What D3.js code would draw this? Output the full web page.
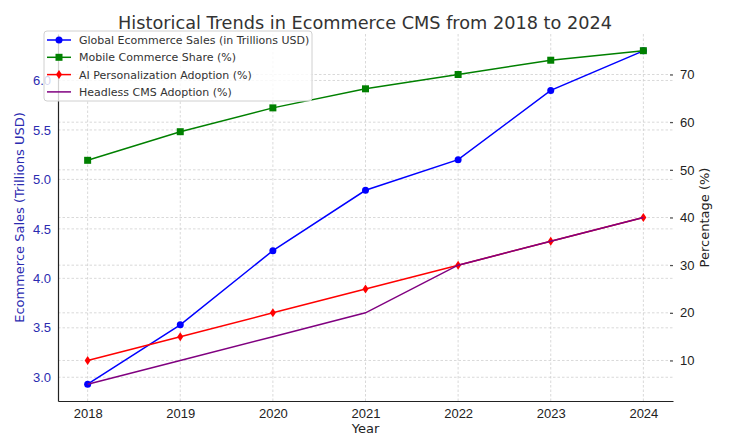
<!DOCTYPE html>
<html><head><meta charset="utf-8">
<script src="https://cdn.jsdelivr.net/npm/d3@7"></script>
<style>body{margin:0;background:#fff}svg{display:block;font-family:"DejaVu Sans",sans-serif}</style>
</head><body><svg id="c" width="744" height="447"></svg>
<script>
const years = [2018, 2019, 2020, 2021, 2022, 2023, 2024];
const salesTrillions = [2.93, 3.53, 4.28, 4.89, 5.2, 5.9, 6.3];
const mobileShare = [52, 58, 63, 67, 70, 73, 75];
const aiAdoption = [10, 15, 20, 25, 30, 35, 40];
const headlessAdoption = [5, 10, 15, 20, 30, 35, 40];
const leftTicks = [3.0, 3.5, 4.0, 4.5, 5.0, 5.5, 6.0];
const rightTicks = [10, 20, 30, 40, 50, 60, 70];

const svg = d3.select("#c");
const L = 58, R = 673, T = 34, B = 401;
const x = d3.scaleLinear().domain([2017.68, 2024.32]).range([L, R]);
const yL = d3.scaleLinear().domain([2.76, 6.47]).range([B, T]);
const yR = d3.scaleLinear().domain([1.5, 78.5]).range([B, T]);

const grid = svg.append("g").attr("stroke", "#cfcfcf").attr("stroke-width", 0.8).attr("stroke-dasharray", "2.5,2");
years.forEach(v => grid.append("line").attr("x1", x(v)).attr("x2", x(v)).attr("y1", T).attr("y2", B));
leftTicks.forEach(v => grid.append("line").attr("x1", L).attr("x2", R).attr("y1", yL(v)).attr("y2", yL(v)));
rightTicks.forEach(v => grid.append("line").attr("x1", L).attr("x2", R).attr("y1", yR(v)).attr("y2", yR(v)));

// axes
const xAxis = svg.append("g").attr("transform", `translate(0,${B})`)
  .call(d3.axisBottom(x).tickValues(years).tickFormat(d3.format("d")).tickSize(0).tickPadding(8));
xAxis.select(".domain").attr("stroke", "#222").attr("stroke-width", 1.2);
xAxis.selectAll("text").attr("font-size", 13).attr("fill", "#222");

const lAxis = svg.append("g").attr("transform", `translate(${L},0)`)
  .call(d3.axisLeft(yL).tickValues(leftTicks).tickFormat(d3.format(".1f")).tickSize(0).tickPadding(7));
lAxis.select(".domain").attr("stroke", "#222").attr("stroke-width", 1.2);
lAxis.selectAll("text").attr("font-size", 13).attr("fill", "#2b2bb0");

const rAxis = svg.append("g").attr("transform", `translate(${R},0)`)
  .call(d3.axisRight(yR).tickValues(rightTicks).tickSize(3).tickPadding(4));
rAxis.select(".domain").remove();
rAxis.selectAll("line").attr("stroke", "#333").attr("transform", "translate(-3,0)");
rAxis.selectAll("text").attr("font-size", 13).attr("fill", "#222");

// labels
svg.append("text").attr("x", 365).attr("y", 28.5).attr("text-anchor", "middle").attr("font-size", 17.7).attr("fill", "#333").text("Historical Trends in Ecommerce CMS from 2018 to 2024");
svg.append("text").attr("x", (L + R) / 2).attr("y", 433).attr("text-anchor", "middle").attr("font-size", 13).attr("fill", "#222").text("Year");
svg.append("text").attr("transform", `translate(24,${(T + B) / 2}) rotate(-90)`).attr("text-anchor", "middle").attr("font-size", 13).attr("fill", "#2b2bb0").text("Ecommerce Sales (Trillions USD)");
svg.append("text").attr("transform", `translate(709,${(T + B) / 2}) rotate(-90)`).attr("text-anchor", "middle").attr("font-size", 13).attr("fill", "#222").text("Percentage (%)");

const series = [
  {name: "Global Ecommerce Sales (in Trillions USD)", vals: salesTrillions, y: yL, color: "#0000ff", marker: "circle"},
  {name: "Mobile Commerce Share (%)", vals: mobileShare, y: yR, color: "#008000", marker: "square"},
  {name: "AI Personalization Adoption (%)", vals: aiAdoption, y: yR, color: "#ff0000", marker: "diamond"},
  {name: "Headless CMS Adoption (%)", vals: headlessAdoption, y: yR, color: "#800080", marker: null}
];

function drawMarker(g, type, cx, cy, color) {
  if (type === "circle") g.append("circle").attr("cx", cx).attr("cy", cy).attr("r", 3.5).attr("fill", color);
  else if (type === "square") g.append("rect").attr("x", cx - 3.5).attr("y", cy - 3.5).attr("width", 7).attr("height", 7).attr("fill", color);
  else if (type === "diamond") g.append("path").attr("d", `M${cx},${cy - 4.5}L${cx + 3},${cy}L${cx},${cy + 4.5}L${cx - 3},${cy}Z`).attr("fill", color);
}

series.forEach(s => {
  const g = svg.append("g");
  const line = d3.line().x((d, i) => x(years[i])).y(d => s.y(d));
  g.append("path").datum(s.vals).attr("d", line).attr("fill", "none").attr("stroke", s.color).attr("stroke-width", 1.5);
  if (s.marker) s.vals.forEach((v, i) => drawMarker(g, s.marker, x(years[i]), s.y(v), s.color));
});

// legend
const lg = svg.append("g");
lg.append("rect").attr("x", 44).attr("y", 31).attr("width", 268).attr("height", 70).attr("rx", 3)
  .attr("fill", "#fff").attr("fill-opacity", 0.8).attr("stroke", "#d0d0d0");
series.forEach((s, i) => {
  const yy = 40 + i * 17.3;
  lg.append("line").attr("x1", 47).attr("x2", 71).attr("y1", yy).attr("y2", yy).attr("stroke", s.color).attr("stroke-width", 1.5);
  if (s.marker) drawMarker(lg, s.marker, 59, yy, s.color);
  lg.append("text").attr("x", 79).attr("y", yy + 4).attr("font-size", 11).attr("fill", "#333").text(s.name);
});
</script></body></html>
